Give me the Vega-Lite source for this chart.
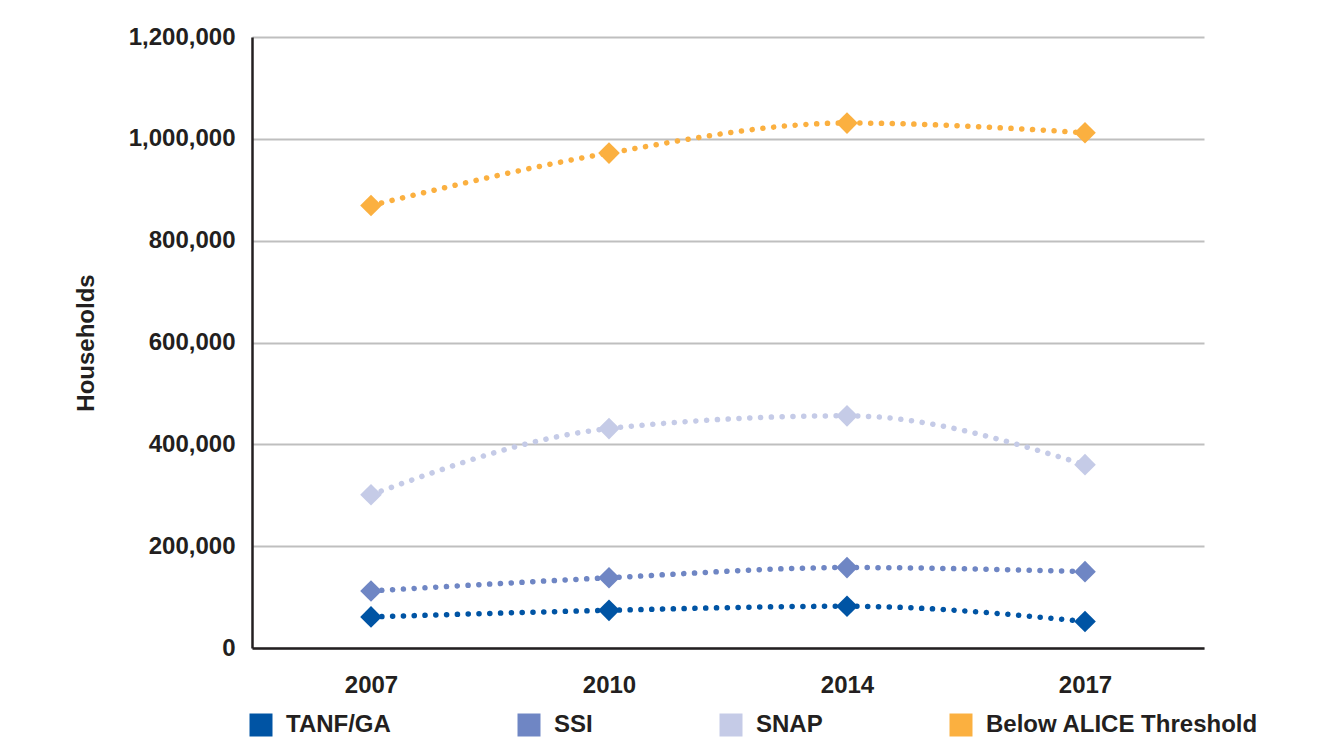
{
  "$schema": "https://vega.github.io/schema/vega-lite/v6.json",
  "autosize": {"type": "none"},
  "width": 952,
  "height": 611,
  "padding": {"left": 252, "top": 37, "right": 123, "bottom": 108},
  "background": "white",
  "config": {
    "font": "Liberation Sans",
    "view": {"stroke": null},
    "axis": {"labelFont": "Liberation Sans", "labelFontWeight": "bold", "labelFontSize": 24, "labelColor": "#231f20", "titleFont": "Liberation Sans", "titleFontWeight": "bold", "titleFontSize": 24, "titleColor": "#231f20"},
    "legend": {"labelFont": "Liberation Sans", "labelFontWeight": "bold", "labelFontSize": 24, "labelColor": "#231f20", "labelLimit": 400}
  },
  "data": {
    "values": [
      {"year": "2007", "series": "TANF/GA", "households": 61000},
      {"year": "2010", "series": "TANF/GA", "households": 74000},
      {"year": "2014", "series": "TANF/GA", "households": 82000},
      {"year": "2017", "series": "TANF/GA", "households": 52000},
      {"year": "2007", "series": "SSI", "households": 112000},
      {"year": "2010", "series": "SSI", "households": 138000},
      {"year": "2014", "series": "SSI", "households": 158000},
      {"year": "2017", "series": "SSI", "households": 150000},
      {"year": "2007", "series": "SNAP", "households": 301000},
      {"year": "2010", "series": "SNAP", "households": 431000},
      {"year": "2014", "series": "SNAP", "households": 456000},
      {"year": "2017", "series": "SNAP", "households": 360000},
      {"year": "2007", "series": "Below ALICE Threshold", "households": 869000},
      {"year": "2010", "series": "Below ALICE Threshold", "households": 972000},
      {"year": "2014", "series": "Below ALICE Threshold", "households": 1031000},
      {"year": "2017", "series": "Below ALICE Threshold", "households": 1012000}
    ]
  },
  "encoding": {
    "x": {
      "field": "year", "type": "ordinal",
      "scale": {"type": "point", "padding": 0.5},
      "axis": {"title": null, "labelAngle": 0, "ticks": false, "domainColor": "#231f20", "domainWidth": 2.5, "labelPadding": 25, "grid": false}
    },
    "y": {
      "field": "households", "type": "quantitative",
      "scale": {"domain": [0, 1200000], "nice": false},
      "axis": {"title": "Households", "values": [0, 200000, 400000, 600000, 800000, 1000000, 1200000], "format": ",.0f", "ticks": false, "domainColor": "#231f20", "domainWidth": 2.5, "gridColor": "#bfbfbf", "gridWidth": 2, "labelPadding": 17, "titlePadding": 30}
    },
    "color": {
      "field": "series", "type": "nominal",
      "scale": {"domain": ["TANF/GA", "SSI", "SNAP", "Below ALICE Threshold"], "range": ["#0054a4", "#6f86c4", "#c5cbe7", "#fbb040"]},
      "legend": {"title": null, "orient": "none", "legendX": -3, "legendY": 676, "direction": "horizontal", "symbolType": "square", "symbolSize": 529, "symbolStrokeWidth": 0, "symbolOpacity": 1, "labelOffset": 13, "columnPadding": 126, "padding": 0}
    }
  },
  "layer": [
    {
      "mark": {"type": "line", "interpolate": "monotone", "strokeWidth": 5.5, "strokeDash": [0.1, 10.7], "strokeCap": "round"}
    },
    {
      "mark": {"type": "point", "shape": "diamond", "filled": true, "size": 470, "opacity": 1}
    }
  ]
}
